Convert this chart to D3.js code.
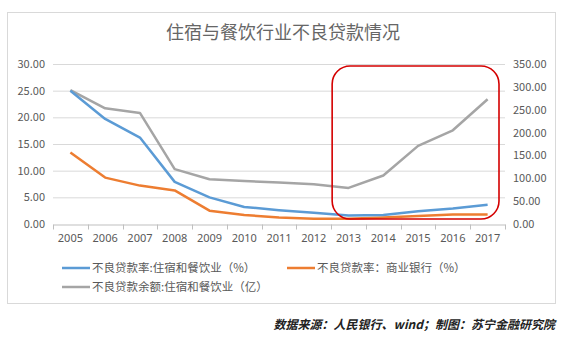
<!DOCTYPE html>
<html>
<head>
<meta charset="utf-8">
<script src="https://cdn.jsdelivr.net/npm/d3@7"></script>
<style>
  body { margin: 0; background: #fff; }
  svg { display: block; font-family: "Noto Sans CJK SC", "Noto Sans", sans-serif; }
</style>
</head>
<body>
<div id="plot"></div>
<script>
var years = ["2005","2006","2007","2008","2009","2010","2011","2012","2013","2014","2015","2016","2017"];
var rateLodging = [25.0, 19.7, 16.2, 7.9, 5.0, 3.2, 2.6, 2.1, 1.6, 1.7, 2.4, 2.9, 3.6];
var rateBank = [13.4, 8.7, 7.2, 6.3, 2.5, 1.7, 1.2, 1.0, 1.0, 1.2, 1.5, 1.8, 1.8];
var balanceLodging = [293, 253, 243, 120, 98, 94, 91, 87, 79, 106, 171, 205, 273];
var leftTicks = [0, 5, 10, 15, 20, 25, 30];
var rightTicks = [0, 50, 100, 150, 200, 250, 300, 350];
var legendNames = ["不良贷款率:住宿和餐饮业（%）", "不良贷款率：商业银行（%）", "不良贷款余额:住宿和餐饮业（亿）"];
var colors = ["#5b9bd5", "#ed7d31", "#a5a5a5"];

var W = 563, H = 337;
var svg = d3.select("#plot").append("svg")
    .attr("width", W)
    .attr("height", H);

var layout = { left: 53, right: 505, top: 64, bottom: 224 };

// chart frame
svg.append("rect")
    .attr("x", 7.5).attr("y", 12.5)
    .attr("width", 548).attr("height", 291)
    .attr("fill", "#fff")
    .attr("stroke", "#d9d9d9");

svg.append("text")
    .attr("x", 283).attr("y", 39)
    .attr("text-anchor", "middle")
    .style("font-size", "18px")
    .style("fill", "#666")
    .text("住宿与餐饮行业不良贷款情况");

var x = d3.scaleBand().domain(years).range([layout.left, layout.right]);
var yL = d3.scaleLinear().domain([0, 30]).range([layout.bottom, layout.top]);
var yR = d3.scaleLinear().domain([0, 350]).range([layout.bottom, layout.top]);

// gridlines
svg.append("g").selectAll("line")
    .data(leftTicks.slice(1))
    .enter().append("line")
    .attr("x1", layout.left).attr("x2", layout.right)
    .attr("y1", function(d){ return yL(d) + 0.5; })
    .attr("y2", function(d){ return yL(d) + 0.5; })
    .attr("stroke", "#d9d9d9");

// left axis labels
svg.append("g").selectAll("text")
    .data(leftTicks)
    .enter().append("text")
    .attr("x", 45)
    .attr("y", function(d){ return yL(d) + 4; })
    .attr("text-anchor", "end")
    .style("font-size", "11px")
    .style("fill", "#595959")
    .text(function(d){ return d.toFixed(2); });

// right axis labels
svg.append("g").selectAll("text")
    .data(rightTicks)
    .enter().append("text")
    .attr("x", 513)
    .attr("y", function(d){ return yR(d) + 4; })
    .style("font-size", "11px")
    .style("fill", "#595959")
    .text(function(d){ return d.toFixed(2); });

// x axis
var xAxis = svg.append("g")
    .attr("transform", "translate(0," + (layout.bottom + 0.5) + ")")
    .call(d3.axisBottom(x).tickSize(0).tickPadding(10));
xAxis.select(".domain").attr("stroke", "#bfbfbf");
xAxis.selectAll("text").style("font-size", "11px").style("fill", "#595959")
    .style("font-family", "'Noto Sans', sans-serif");
xAxis.selectAll(".sep")
    .data(years.concat(["end"]))
    .enter().append("line")
    .attr("class", "sep")
    .attr("x1", function(d, i){ return Math.round(layout.left + i * x.step()) + 0.5; })
    .attr("x2", function(d, i){ return Math.round(layout.left + i * x.step()) + 0.5; })
    .attr("y1", 0).attr("y2", 5)
    .attr("stroke", "#bfbfbf");

var cx = function(d, i){ return x(years[i]) + x.bandwidth() / 2; };

var series = [
    { values: rateLodging, scale: yL },
    { values: rateBank, scale: yL },
    { values: balanceLodging, scale: yR }
];
var drawOrder = [2, 1, 0];
drawOrder.forEach(function(k){
    var s = series[k];
    var line = d3.line()
        .x(cx)
        .y(function(d){ return s.scale(d); });
    svg.append("path")
        .datum(s.values)
        .attr("d", line)
        .attr("fill", "none")
        .attr("stroke", colors[k])
        .attr("stroke-width", 2.5)
        .attr("stroke-linejoin", "round");
});

// red highlight box around 2013-2017
svg.append("rect")
    .attr("x", x("2013") + 1)
    .attr("y", 66)
    .attr("width", layout.right - x("2013") - 7)
    .attr("height", 153)
    .attr("rx", 18).attr("ry", 18)
    .attr("fill", "none")
    .attr("stroke", "#d40000")
    .attr("stroke-width", 1.6);

// legend
var legendPos = [[62, 268], [287, 268], [62, 287]];
var lg = svg.append("g").selectAll("g")
    .data(legendNames)
    .enter().append("g")
    .attr("transform", function(d, i){ return "translate(" + legendPos[i][0] + "," + legendPos[i][1] + ")"; });
lg.append("line")
    .attr("x1", 0).attr("x2", 28)
    .attr("stroke", function(d, i){ return colors[i]; })
    .attr("stroke-width", 2.5);
lg.append("text")
    .attr("x", 30).attr("y", 4)
    .style("font-size", "11.5px")
    .style("fill", "#595959")
    .text(function(d){ return d; });

// source note
svg.append("text")
    .attr("x", 555).attr("y", 329)
    .attr("text-anchor", "end")
    .style("font-size", "12px")
    .style("font-style", "italic")
    .style("font-weight", "600")
    .style("fill", "#222")
    .text("数据来源：人民银行、wind；制图：苏宁金融研究院");
</script>
</body>
</html>
